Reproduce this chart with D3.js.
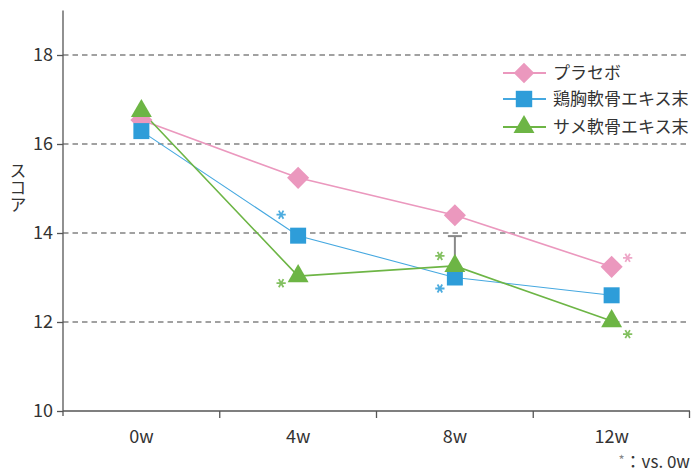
<!DOCTYPE html>
<html>
<head>
<meta charset="utf-8">
<script src="https://cdn.jsdelivr.net/npm/d3@7/dist/d3.min.js"></script>
<style>
  html, body { margin: 0; padding: 0; background: #fff; }
  svg { display: block; font-family: "Noto Sans CJK JP", "Noto Sans", sans-serif; }
</style>
</head>
<body>
<svg id="chart" width="691" height="472"></svg>
<script>
// Time points and scores
const weeks = ["0w", "4w", "8w", "12w"];
const placebo = [16.54, 15.24, 14.40, 13.24];
const chicken = [16.29, 13.94, 13.00, 12.60];
const shark   = [16.74, 13.03, 13.26, 12.02];
const yTicks = [10, 12, 14, 16, 18];
const seriesNames = ["プラセボ", "鶏胸軟骨エキス末", "サメ軟骨エキス末"];
// Upper end of the error bar shown for the shark series at 8w
const sharkErrorWeek = "8w";
const sharkErrorUpper = 13.93;
// Significant differences vs. 0w: [series index, week]
const significant = [[1, "4w"], [2, "4w"], [2, "8w"], [1, "8w"], [0, "12w"], [2, "12w"]];

const colors = ["#EB98BE", "#2E9DD9", "#6DB545"];
const lineColors = ["#EB98BE", "#45A8E0", "#6DB545"];
const lineWidths = [1.6, 1.1, 1.6];
const symbols = [d3.symbolSquare, d3.symbolSquare, d3.symbolTriangle];
const symbolRotate = [45, 0, 0];
const symbolSizes = [245, 256, 190];
const asteriskOffsets = {"1-4w": [-17, -21], "2-4w": [-17, 7], "2-8w": [-15, -10], "1-8w": [-15, 11], "0-12w": [16, -9], "2-12w": [16, 13]};

const svg = d3.select("#chart");
const plotLeft = 63, plotRight = 690, plotTop = 10.5, plotBottom = 411;

const x = d3.scaleBand().domain(weeks).range([plotLeft, plotRight]);
const y = d3.scaleLinear().domain([10, 19]).range([plotBottom, plotTop]);
const cx = w => x(w) + x.bandwidth() / 2;

// Dashed grid lines
svg.append("g").selectAll("line")
  .data(yTicks.filter(t => t > 10))
  .join("line")
  .attr("x1", plotLeft).attr("x2", plotRight)
  .attr("y1", d => y(d)).attr("y2", d => y(d))
  .attr("stroke", "#444").attr("stroke-width", 1.1)
  .attr("stroke-dasharray", "5.5,4");

// Y axis
const yAxis = svg.append("g")
  .attr("transform", `translate(${plotLeft},0)`)
  .call(d3.axisLeft(y).tickValues(yTicks).tickSize(6).tickPadding(4).tickFormat(d3.format("d")));
yAxis.select(".domain").attr("d", `M0,${plotTop}V${plotBottom + 5}`);
yAxis.selectAll("path, line").attr("stroke", "#555").attr("stroke-width", 1.3);
yAxis.selectAll("text").attr("font-size", 18).attr("fill", "#333").attr("font-family", "'Noto Sans CJK JP', sans-serif");

// X axis with ticks on band boundaries
const xAxis = svg.append("g").attr("transform", `translate(0,${plotBottom})`);
xAxis.append("line").attr("x1", plotLeft).attr("x2", plotRight).attr("stroke", "#555").attr("stroke-width", 1.3);
xAxis.selectAll("line.tick")
  .data(weeks.slice(1).map(w => x(w)).concat([plotRight - 0.5]))
  .join("line").attr("class", "tick")
  .attr("x1", d => d).attr("x2", d => d).attr("y1", 0).attr("y2", 7)
  .attr("stroke", "#555").attr("stroke-width", 1.3);
xAxis.selectAll("text")
  .data(weeks).join("text")
  .attr("x", d => cx(d)).attr("y", 32)
  .attr("text-anchor", "middle").attr("font-size", 18).attr("fill", "#333")
  .text(d => d);

// Y axis title, set vertically
svg.append("text")
  .attr("x", 18).attr("y", 162)
  .attr("writing-mode", "vertical-rl")
  .attr("font-size", 17).attr("fill", "#333")
  .text("スコア");

// Series lines and markers
const data = [placebo, chicken, shark];
const line = d3.line().x((d, i) => cx(weeks[i])).y(d => y(d));

// Error bar (behind markers)
svg.append("line")
  .attr("x1", cx(sharkErrorWeek)).attr("x2", cx(sharkErrorWeek))
  .attr("y1", y(shark[weeks.indexOf(sharkErrorWeek)])).attr("y2", y(sharkErrorUpper))
  .attr("stroke", "#888").attr("stroke-width", 2);
svg.append("line")
  .attr("x1", cx(sharkErrorWeek) - 7).attr("x2", cx(sharkErrorWeek) + 7)
  .attr("y1", y(sharkErrorUpper)).attr("y2", y(sharkErrorUpper))
  .attr("stroke", "#888").attr("stroke-width", 2);

data.forEach((vals, s) => {
  svg.append("path").datum(vals)
    .attr("d", line).attr("fill", "none")
    .attr("stroke", lineColors[s]).attr("stroke-width", lineWidths[s]);
});
data.forEach((vals, s) => {
  svg.append("g").selectAll("path")
    .data(vals).join("path")
    .attr("transform", (d, i) => `translate(${cx(weeks[i])},${y(d)}) rotate(${symbolRotate[s]})`)
    .attr("d", d3.symbol(symbols[s], symbolSizes[s]))
    .attr("fill", colors[s]);
});

// Significance asterisks
significant.forEach(([s, w]) => {
  const off = asteriskOffsets[`${s}-${w}`];
  const v = data[s][weeks.indexOf(w)];
  svg.append("path")
    .attr("transform", `translate(${cx(w) + off[0]},${y(v) + off[1]}) rotate(90)`)
    .attr("d", d3.symbol(d3.symbolAsterisk, 60))
    .attr("fill", "none").attr("stroke", colors[s]).attr("stroke-width", 1.8)
    .attr("opacity", 0.85);
});

// Legend
const legend = svg.append("g");
const legendY = [73, 99, 127];
seriesNames.forEach((name, s) => {
  const g = legend.append("g").attr("transform", `translate(0,${legendY[s]})`);
  g.append("line").attr("x1", 503).attr("x2", 546)
    .attr("stroke", lineColors[s]).attr("stroke-width", 2);
  g.append("path").attr("transform", `translate(524,0) rotate(${symbolRotate[s]})`)
    .attr("d", d3.symbol(symbols[s], [210, 270, 190][s]))
    .attr("fill", colors[s]);
  g.append("text").attr("x", 553).attr("y", 6)
    .attr("font-size", 17).attr("fill", "#333").text(name);
});

// Footnote
const note = svg.append("text").attr("x", 690).attr("y", 468)
  .attr("text-anchor", "end").attr("font-size", 17).attr("fill", "#333");
note.append("tspan").attr("fill", "#888").attr("font-size", 13).attr("dy", -3).text("*");
note.append("tspan").attr("dy", 3).text("：vs. 0w");
</script>
</body>
</html>
